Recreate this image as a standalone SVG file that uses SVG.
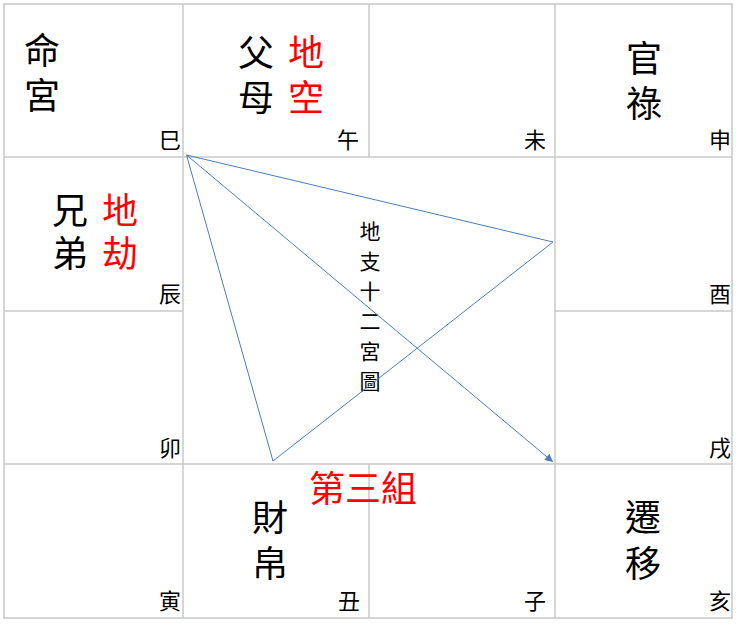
<svg xmlns="http://www.w3.org/2000/svg" width="740" height="624" viewBox="0 0 740 624">
<style>
.grid{stroke:#c8c8c8;stroke-width:1.5;fill:none}
.big{font-family:"Noto Sans CJK TC","Noto Sans CJK SC",sans-serif;font-size:36px;fill:#000}
.v{writing-mode:vertical-rl;letter-spacing:9px}
.red{fill:#ff0000}
.br{font-family:"Noto Sans CJK TC","Noto Sans CJK SC",sans-serif;font-size:22px;fill:#000;text-anchor:end}
.title{font-family:"Noto Sans CJK TC","Noto Sans CJK SC",sans-serif;font-size:21px;fill:#000;writing-mode:vertical-rl;letter-spacing:9px}
.conn{stroke:#4a7ebb;stroke-width:1;fill:none}
</style>
<defs>
<marker id="arr" viewBox="0 0 10 10" refX="10" refY="5" markerWidth="10" markerHeight="8" markerUnits="userSpaceOnUse" orient="auto">
<path d="M0,0 L10,5 L0,10 z" fill="#4a7ebb"/>
</marker>
</defs>
<rect width="740" height="624" fill="#fff"/>
<g id="grid" class="grid">
<rect x="4" y="4" width="728" height="614"/>
<line x1="183" y1="4" x2="183" y2="618"/>
<line x1="555" y1="4" x2="555" y2="618"/>
<line x1="369" y1="4" x2="369" y2="157"/>
<line x1="369" y1="464" x2="369" y2="618"/>
<line x1="4" y1="157" x2="732" y2="157"/>
<line x1="4" y1="464" x2="732" y2="464"/>
<line x1="4" y1="311" x2="183" y2="311"/>
<line x1="555" y1="311" x2="732" y2="311"/>
</g>
<g id="si">
<text class="big v" x="42" y="32">命宮</text>
<text class="br" x="181" y="148">巳</text>
</g>
<g id="wu">
<text class="big v" x="256" y="34">父母</text>
<text class="big v red" x="306" y="34">地空</text>
<text class="br" x="359" y="148">午</text>
</g>
<g id="wei">
<text class="br" x="546" y="148">未</text>
</g>
<g id="shen">
<text class="big v" x="644" y="40">官祿</text>
<text class="br" x="731" y="148">申</text>
</g>
<g id="chen">
<text class="big v" x="70" y="192" style="letter-spacing:7px">兄弟</text>
<text class="big v red" x="120" y="192" style="letter-spacing:7px">地劫</text>
<text class="br" x="181" y="302">辰</text>
</g>
<g id="you">
<text class="br" x="731" y="302">酉</text>
</g>
<g id="mao">
<text class="br" x="181" y="456">卯</text>
</g>
<g id="xu">
<text class="br" x="731" y="456">戌</text>
</g>
<g id="yin">
<text class="br" x="181" y="609">寅</text>
</g>
<g id="chou">
<text class="big v" x="270" y="499" style="letter-spacing:10px">財帛</text>
<text class="br" x="360" y="609">丑</text>
</g>
<g id="zi">
<text class="br" x="546" y="609">子</text>
</g>
<g id="hai">
<text class="big v" x="643" y="499" style="letter-spacing:10px">遷移</text>
<text class="br" x="731" y="609">亥</text>
</g>
<g id="center">
<text class="title" x="370" y="221">地支十二宮圖</text>
</g>
<g id="group3">
<text class="big red" x="309" y="502">第三組</text>
</g>
<g id="connectors">
<polygon class="conn" points="186.5,155 553,242 273,461"/>
<line class="conn" x1="186.5" y1="155" x2="553" y2="462" marker-end="url(#arr)"/>
</g>
</svg>
